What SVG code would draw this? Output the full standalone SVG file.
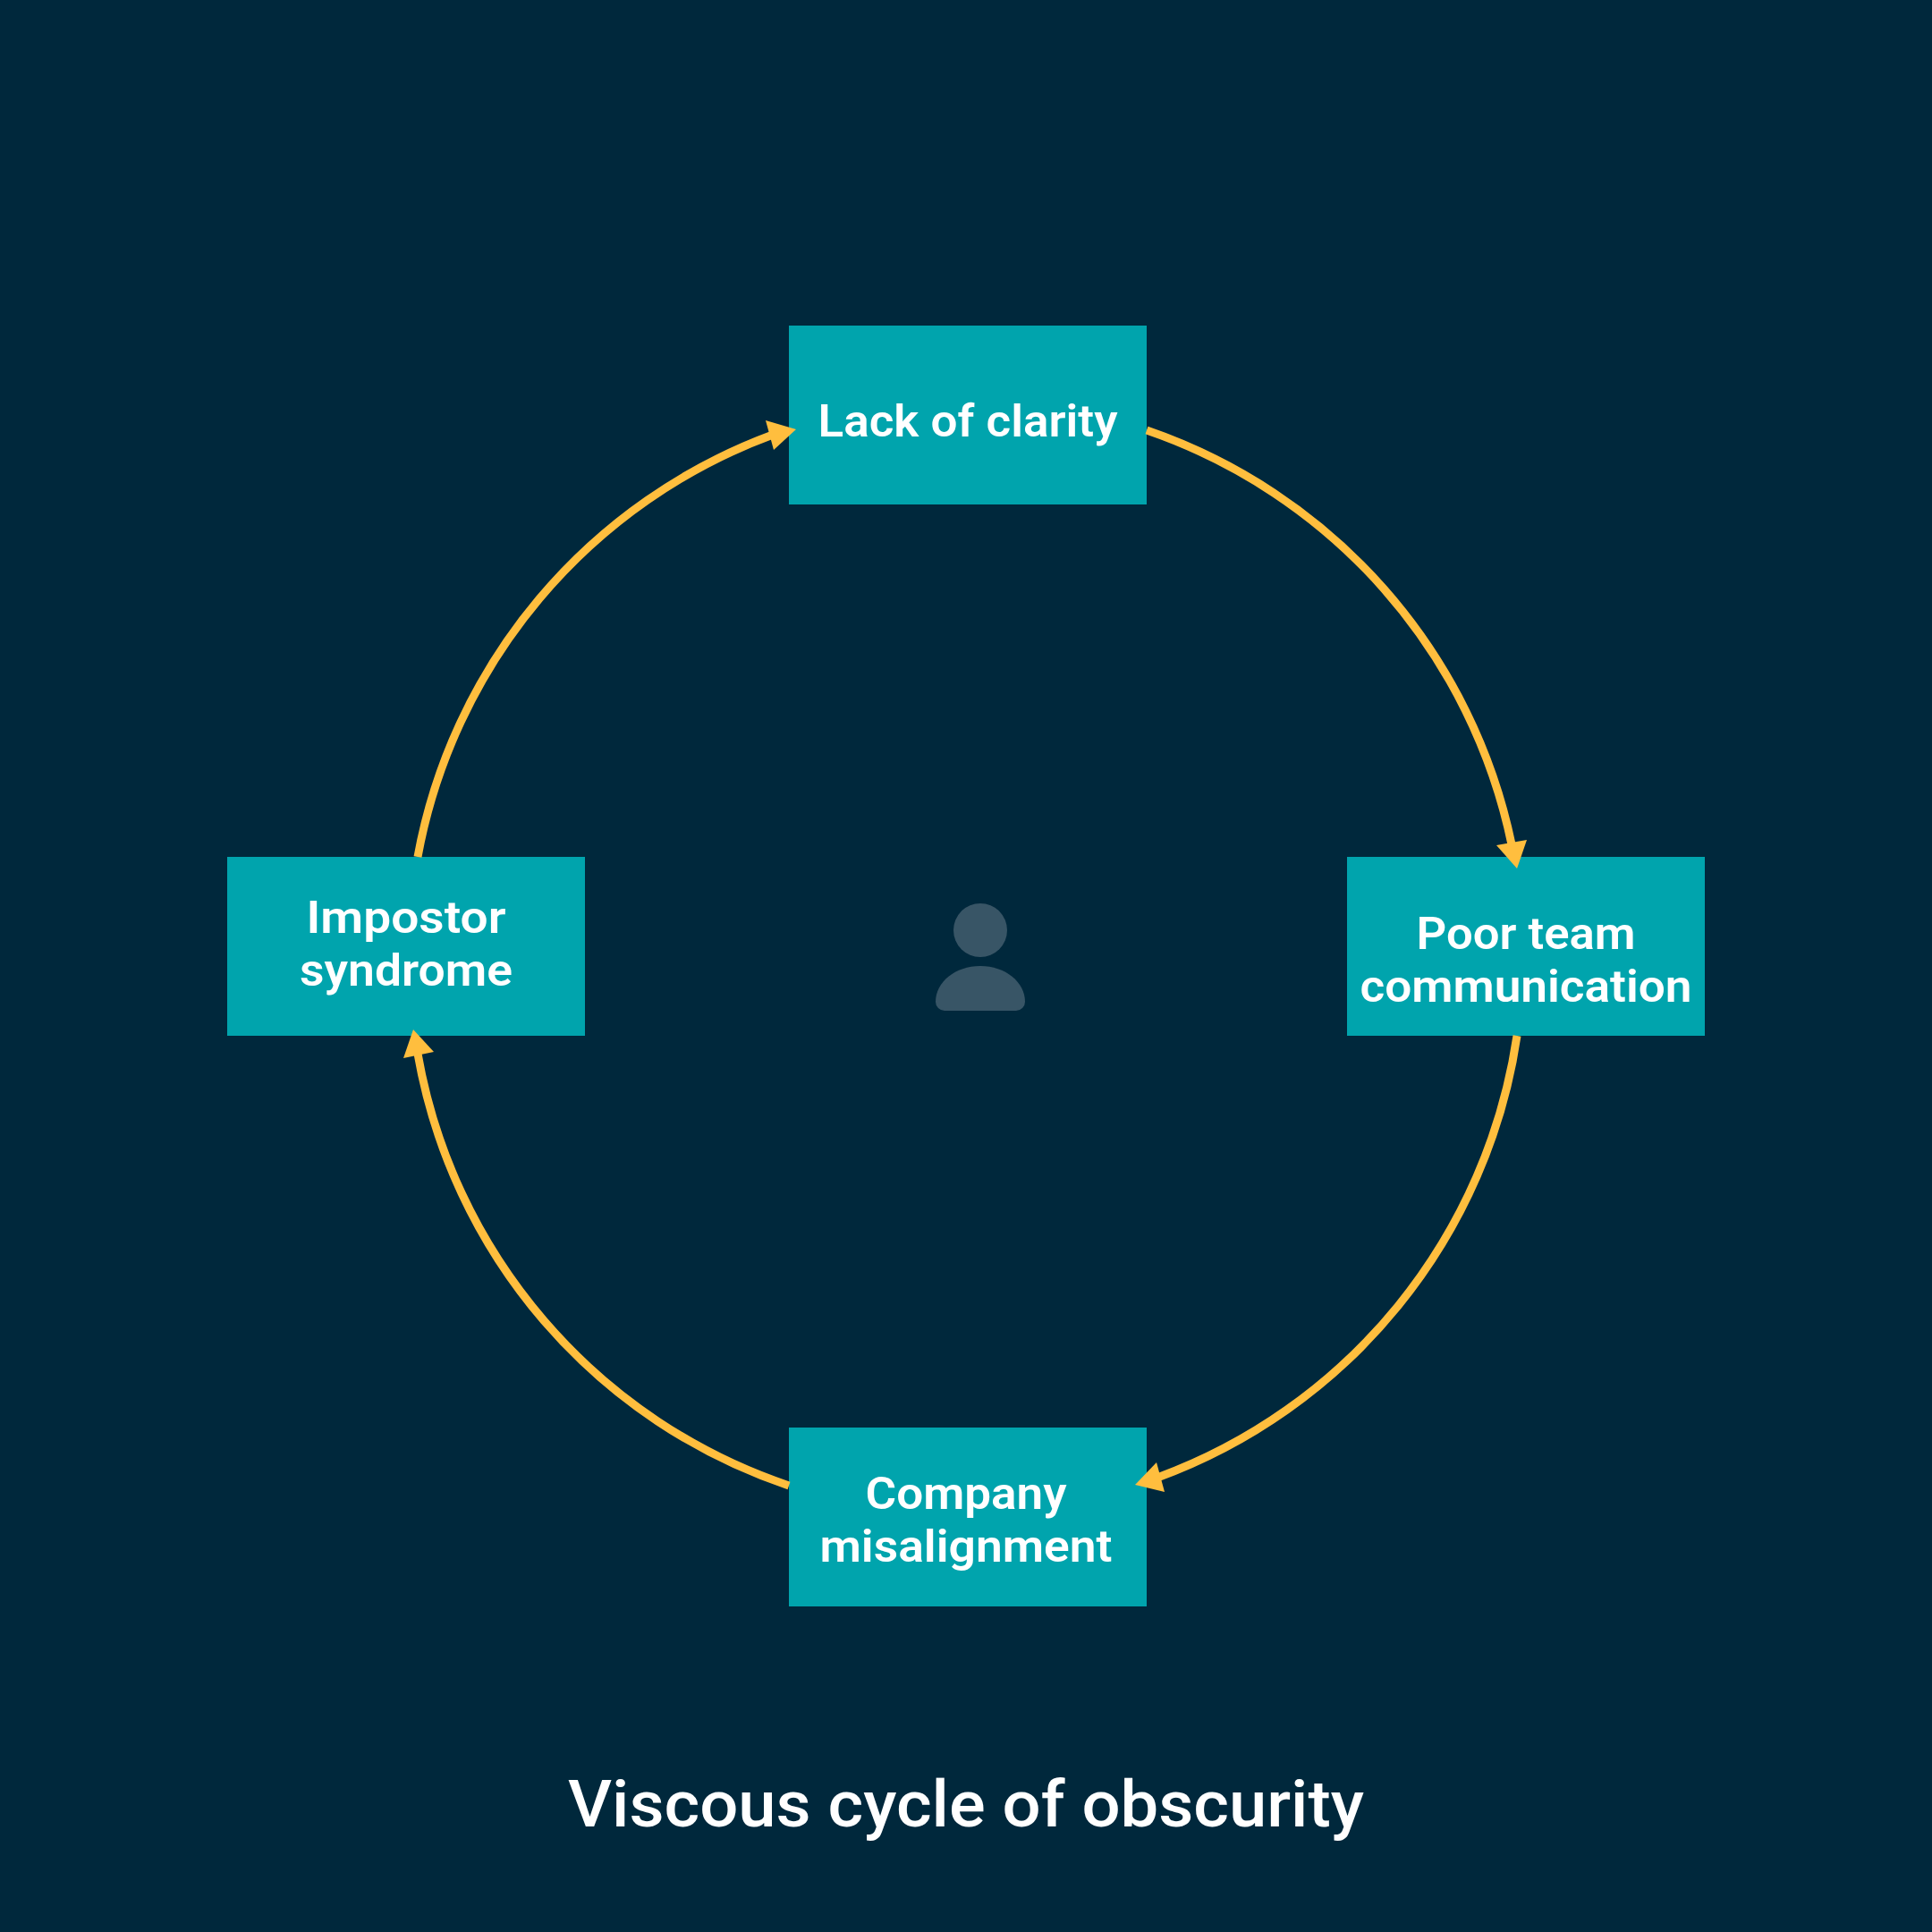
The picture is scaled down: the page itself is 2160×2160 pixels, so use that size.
<svg xmlns="http://www.w3.org/2000/svg" width="2160" height="2160" viewBox="0 0 2160 2160">
<style>
.node{fill:#00a4ad}
.label{font-family:Roboto,"Noto Sans","Liberation Sans",sans-serif;font-weight:600;font-size:50px;fill:#fff;text-anchor:middle}
.title{font-family:Roboto,"Noto Sans","Liberation Sans",sans-serif;font-weight:500;font-size:72px;fill:#fff;text-anchor:middle}
.arc{fill:none;stroke:#ffbe3e;stroke-width:9}
.head{fill:#ffbe3e}
</style>
<rect width="2160" height="2160" fill="#00283c"/>
<g id="icon" fill="#385566">
<circle cx="1096" cy="1040" r="30"/>
<path d="M1056 1130A10 10 0 0 1 1046 1120C1046 1098 1068 1080 1096 1080C1124 1080 1146 1098 1146 1120A10 10 0 0 1 1136 1130Z"/>
</g>
<g id="node-lack-of-clarity">
<rect class="node" x="882" y="364" width="400" height="200"/>
<text class="label" x="1082" y="488" textLength="335" lengthAdjust="spacingAndGlyphs">Lack of clarity</text>
</g>
<g id="node-poor-team-communication">
<rect class="node" x="1506" y="958" width="400" height="200"/>
<text class="label" x="1706" y="1061" textLength="245" lengthAdjust="spacingAndGlyphs">Poor team</text>
<text class="label" x="1706" y="1120" textLength="371" lengthAdjust="spacingAndGlyphs">communication</text>
</g>
<g id="node-company-misalignment">
<rect class="node" x="882" y="1596" width="400" height="200"/>
<text class="label" x="1080" y="1687" textLength="225" lengthAdjust="spacingAndGlyphs">Company</text>
<text class="label" x="1080" y="1746" textLength="327" lengthAdjust="spacingAndGlyphs">misalignment</text>
</g>
<g id="node-impostor-syndrome">
<rect class="node" x="254" y="958" width="400" height="200"/>
<text class="label" x="454" y="1043" textLength="223" lengthAdjust="spacingAndGlyphs">Impostor</text>
<text class="label" x="454" y="1102" textLength="238" lengthAdjust="spacingAndGlyphs">syndrome</text>
</g>
<g id="connectors">
<path class="arc" d="M1282 481A623 623 0 0 1 1690 944"/>
<polygon class="head" points="1696,971 1673,945 1707,939"/>
<path class="arc" d="M1696 1158A623 623 0 0 1 1294 1652"/>
<polygon class="head" points="1269,1660 1293,1635 1302,1668"/>
<path class="arc" d="M882 1661A623 623 0 0 1 467 1178"/>
<polygon class="head" points="462,1151 485,1176 451,1183"/>
<path class="arc" d="M467 958A623 623 0 0 1 864 486"/>
<polygon class="head" points="890,480 856,470 865,503"/>
</g>
<text class="title" x="1080" y="2042" textLength="890" lengthAdjust="spacingAndGlyphs">Viscous cycle of obscurity</text>
</svg>
